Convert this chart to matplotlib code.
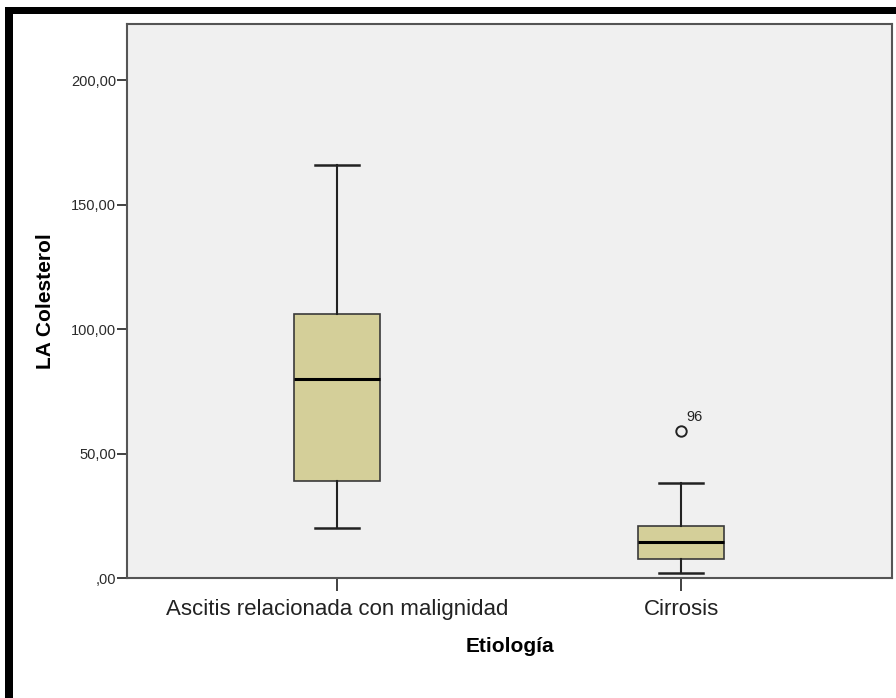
import matplotlib
matplotlib.use("Agg")
import matplotlib.pyplot as plt
from matplotlib.patches import Rectangle
from matplotlib.ticker import FuncFormatter

plt.rcParams["font.family"] = ["Liberation Sans", "DejaVu Sans"]

categories = ["Ascitis relacionada con malignidad", "Cirrosis"]
whisker_low = [20.0, 1.9]
q1 = [39.0, 7.6]
median = [80.0, 14.3]
q3 = [106.0, 20.9]
whisker_high = [166.0, 38.0]
outliers = [[], [59.0]]
outlier_ids = [[], ["96"]]
y_ticks = [0, 50, 100, 150, 200]

fig = plt.figure(figsize=(8.96, 6.98), dpi=100)
ax = fig.add_axes([127 / 896, 1 - 578 / 698, (892 - 127) / 896, (578 - 24) / 698])

stats = []
for i, name in enumerate(categories):
    stats.append(dict(label=name, whislo=whisker_low[i], q1=q1[i], med=median[i],
                      q3=q3[i], whishi=whisker_high[i], fliers=outliers[i]))

positions = [1, 2]
ax.bxp(stats, positions=positions, widths=0.25, patch_artist=True,
       boxprops=dict(facecolor="#D4CF99", edgecolor="#3a3a3a", linewidth=1.2),
       medianprops=dict(color="black", linewidth=2.2),
       whiskerprops=dict(color="#222222", linewidth=1.5),
       capprops=dict(color="#222222", linewidth=1.8),
       capwidths=0.13,
       flierprops=dict(marker="o", markerfacecolor="none", markeredgecolor="#222222",
                       markersize=7.5, markeredgewidth=1.4))

for i, pos in enumerate(positions):
    for v, lab in zip(outliers[i], outlier_ids[i]):
        ax.annotate(lab, (pos, v), xytext=(3.6, 10.5), textcoords="offset points",
                    fontsize=10.5, color="#222222", va="center", ha="left")

def fmt(v, p):
    s = ("%.2f" % v).replace(".", ",")
    return s[1:] if s.startswith("0") else s

ax.set_facecolor("#F0F0F0")
ax.set_xlim(0.39, 2.613)
ax.set_ylim(0, 222.5)
ax.set_yticks(y_ticks)
ax.yaxis.set_major_formatter(FuncFormatter(fmt))
ax.set_xticks(positions)
ax.set_xticklabels(categories, fontsize=16, color="#222222")
ax.tick_params(axis="y", labelsize=10.5, length=7, width=1.3, color="#333333",
               labelcolor="#2a2a2a", pad=1)
ax.tick_params(axis="x", length=9.5, width=1.3, color="#333333", pad=5.5)
for s in ax.spines.values():
    s.set_color("#555555")
    s.set_linewidth(1.5)

ax.set_ylabel("LA Colesterol", fontsize=15, fontweight="bold")
ax.set_xlabel("Etiología", fontsize=15, fontweight="bold")
ax.xaxis.set_label_coords((510 - 127) / (892 - 127), -(637 - 578) / (578 - 24))
ax.yaxis.set_label_coords(-(127 - 55) / (892 - 127), 0.5)

# heavy frame along the top and left edges
fig.patches.append(Rectangle((5 / 896, 1 - 14 / 698), 1, 7 / 698, transform=fig.transFigure,
                             facecolor="black", edgecolor="none", zorder=10))
fig.patches.append(Rectangle((5 / 896, 0), 8 / 896, 1 - 7 / 698, transform=fig.transFigure,
                             facecolor="black", edgecolor="none", zorder=10))

fig.savefig("out.png", dpi=100)
